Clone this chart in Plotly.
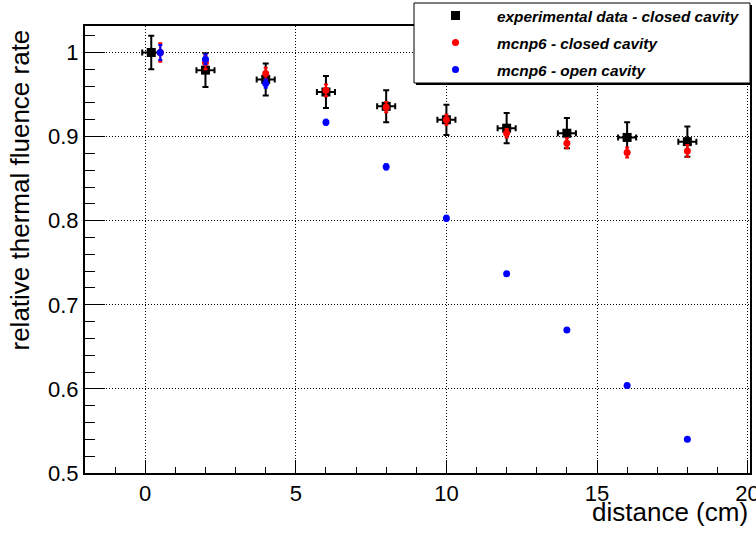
import plotly.graph_objects as go

# ---- data ----
exp_x = [0.2, 2, 4, 6, 8, 10, 12, 14, 16, 18]
exp_y = [1.000, 0.979, 0.968, 0.953, 0.936, 0.920, 0.910, 0.904, 0.899, 0.894]
exp_yerr = [0.020, 0.020, 0.019, 0.019, 0.019, 0.018, 0.018, 0.018, 0.018, 0.018]
exp_xerr = [0.3] * 10

sim_x = [0.5, 2, 4, 6, 8, 10, 12, 14, 16, 18]
closed_y = [1.000, 0.988, 0.975, 0.955, 0.935, 0.920, 0.904, 0.892, 0.881, 0.883]
closed_err = [0.011, 0.008, 0.007, 0.007, 0.006, 0.006, 0.005, 0.006, 0.006, 0.007]
open_y = [1.000, 0.992, 0.963, 0.917, 0.864, 0.803, 0.737, 0.670, 0.604, 0.540]
open_err = [0.009, 0.006, 0.005, 0.003, 0.003, 0.003, 0.002, 0.002, 0.002, 0.002]

x_ticks = [0, 5, 10, 15, 20]
y_ticks = [0.5, 0.6, 0.7, 0.8, 0.9, 1.0]
y_ticklabels = ["0.5", "0.6", "0.7", "0.8", "0.9", "1"]

names = ["experimental data - closed cavity", "mcnp6 - closed cavity", "mcnp6 - open cavity"]

FONT = "Liberation Sans, Arial, Helvetica, sans-serif"

fig = go.Figure()
fig.add_trace(go.Scatter(
    x=exp_x, y=exp_y, mode="markers", name="<b><i>" + names[0] + "</i></b>",
    legendgroup="a",
    marker=dict(symbol="square", size=9, color="black"),
    error_y=dict(type="data", array=exp_yerr, color="black", thickness=2, width=3),
    error_x=dict(type="data", array=exp_xerr, color="black", thickness=2, width=3),
))
fig.add_trace(go.Scatter(
    x=sim_x, y=closed_y, mode="markers", name="<b><i>" + names[1] + "</i></b>",
    legendgroup="b",
    marker=dict(symbol="circle", size=7, color="red"),
    error_y=dict(type="data", array=closed_err, color="red", thickness=2, width=2),
))
fig.add_trace(go.Scatter(
    x=sim_x, y=open_y, mode="markers", name="<b><i>" + names[2] + "</i></b>",
    legendgroup="c",
    marker=dict(symbol="circle", size=7, color="blue"),
    error_y=dict(type="data", array=open_err, color="blue", thickness=2, width=2),
))

L, R, T, B = 85, 6, 26, 62
W, H = 756, 535
pw = W - L - R
ph = H - T - B

def px_x(p):
    return (p - L) / pw

def px_y(p):
    return (H - B - p) / ph

fig.update_layout(
    width=W, height=H,
    margin=dict(l=L, r=R, t=T, b=B, autoexpand=False),
    paper_bgcolor="white", plot_bgcolor="white",
    font=dict(family=FONT, color="black"),
    showlegend=True,
    legend=dict(
        x=px_x(414), xanchor="left", y=px_y(-1), yanchor="top",
        bgcolor="rgba(0,0,0,0)", borderwidth=0,
        font=dict(size=15.4, family=FONT, color="black"),
        itemwidth=73, tracegroupgap=4, traceorder="grouped",
    ),
    xaxis=dict(
        range=[-2, 20.08], tickvals=x_ticks, ticktext=[str(v) for v in x_ticks],
        ticks="inside", ticklen=13, tickwidth=1, tickcolor="black",
        minor=dict(dtick=1, tick0=0, ticks="inside", ticklen=6, tickcolor="black", showgrid=False),
        showline=True, linewidth=2, linecolor="black", mirror=True,
        showgrid=True, gridcolor="black", gridwidth=1, griddash="1px,2px",
        zeroline=False, tickfont=dict(size=22, family=FONT),
        ticklabeloverflow="allow",
    ),
    yaxis=dict(
        range=[0.5, 1.0315], tickvals=y_ticks, ticktext=y_ticklabels,
        ticks="inside", ticklen=20, tickwidth=1, tickcolor="black",
        minor=dict(dtick=0.02, tick0=0.5, ticks="inside", ticklen=10, tickcolor="black", showgrid=False),
        showline=True, linewidth=2, linecolor="black", mirror=True,
        showgrid=True, gridcolor="black", gridwidth=1, griddash="1px,2px",
        zeroline=False, tickfont=dict(size=22, family=FONT),
        ticklabeloverflow="allow",
    ),
    shapes=[
        dict(type="rect", xref="paper", yref="paper",
             x0=px_x(416), x1=px_x(752), y0=px_y(85), y1=px_y(5),
             fillcolor="black", line=dict(width=0), layer="above"),
        dict(type="rect", xref="paper", yref="paper",
             x0=px_x(414), x1=px_x(750), y0=px_y(83), y1=px_y(3),
             fillcolor="white", line=dict(color="black", width=1), layer="above"),
    ],
    annotations=[
        dict(text="relative thermal fluence rate", textangle=-90,
             xref="paper", yref="paper", x=0, xshift=19 - L, xanchor="center",
             y=1, yshift=-2, yanchor="top", showarrow=False,
             font=dict(size=26, family=FONT)),
        dict(text="distance (cm)", xref="paper", yref="paper",
             x=1, xshift=0, xanchor="right", y=0, yshift=-22, yanchor="top",
             showarrow=False, font=dict(size=26, family=FONT)),
    ],
)

fig.write_html(
    "out.html",
    config={"displayModeBar": False},
    post_script="document.body.style.margin='0';document.body.style.overflow='hidden';",
)
